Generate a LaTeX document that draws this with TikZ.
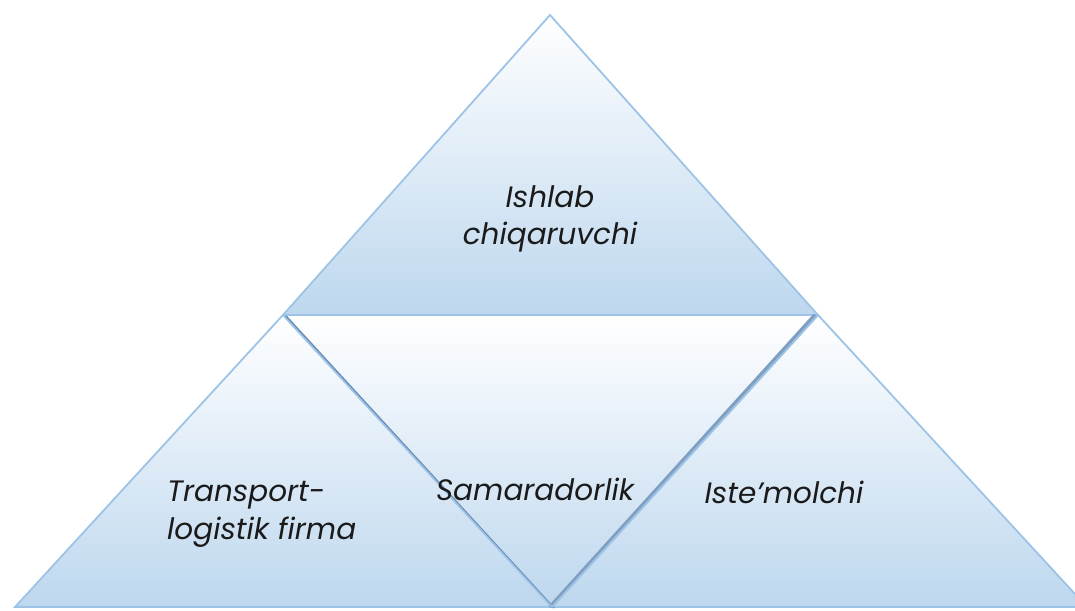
\documentclass[tikz,border=0pt]{standalone}
\usepackage{fontspec}
\setmainfont{Poppins}
\definecolor{edge}{HTML}{9DC3E6}
\definecolor{fillb}{HTML}{BDD7EE}
\definecolor{shadowc}{HTML}{6A8DB5}
\definecolor{txt}{HTML}{1A1A1A}
\begin{document}
\begin{tikzpicture}[x=1pt,y=-1pt,
  tri/.style={draw=edge,line width=1.8pt,line join=miter,top color=white,bottom color=fillb},
  lbl/.style={text=txt,font=\fontsize{29.5}{37.5}\selectfont\itshape,inner sep=0pt}]
\useasboundingbox (0,0) rectangle (1075,610);
\begin{scope}
\clip (0,0) rectangle (1075,610);
\coordinate (A) at (550,15);
\coordinate (B) at (283,315);
\coordinate (C) at (818,315);
\coordinate (D) at (15,607);
\coordinate (E) at (552,607);
\coordinate (F) at (1087,607);
% middle inverted triangle
\shade[top color=white,bottom color=fillb] (B) -- (C) -- (E) -- cycle;
% top triangle
\draw[tri] (A) -- (C) -- (B) -- cycle;
% left triangle
\draw[tri] (B) -- (E) -- (D) -- cycle;
% right triangle
\draw[tri] (C) -- (F) -- (E) -- cycle;
% shadows
\draw[shadowc,line width=1.6pt] ([xshift=3pt,yshift=-1pt]B) -- ([xshift=2pt,yshift=-1pt]E);
\draw[shadowc!85!white,line width=3.8pt] ([xshift=-3pt]C) -- ([xshift=-2pt]E);
\draw[edge,line width=1.8pt] (C) -- (E);
\draw[edge,line width=1.4pt] (B) -- (E);
\end{scope}
\node[lbl,align=center] (top) at (550,219) {Ishlab\\chiqaruvchi};
\node[lbl,align=left,anchor=west] (left) at (167,514) {Transport-\\logistik firma};
\node[lbl] (mid) at (535,489) {Samaradorlik};
\node[lbl] (right) at (784,492) {Iste’molchi};
\end{tikzpicture}
\end{document}
